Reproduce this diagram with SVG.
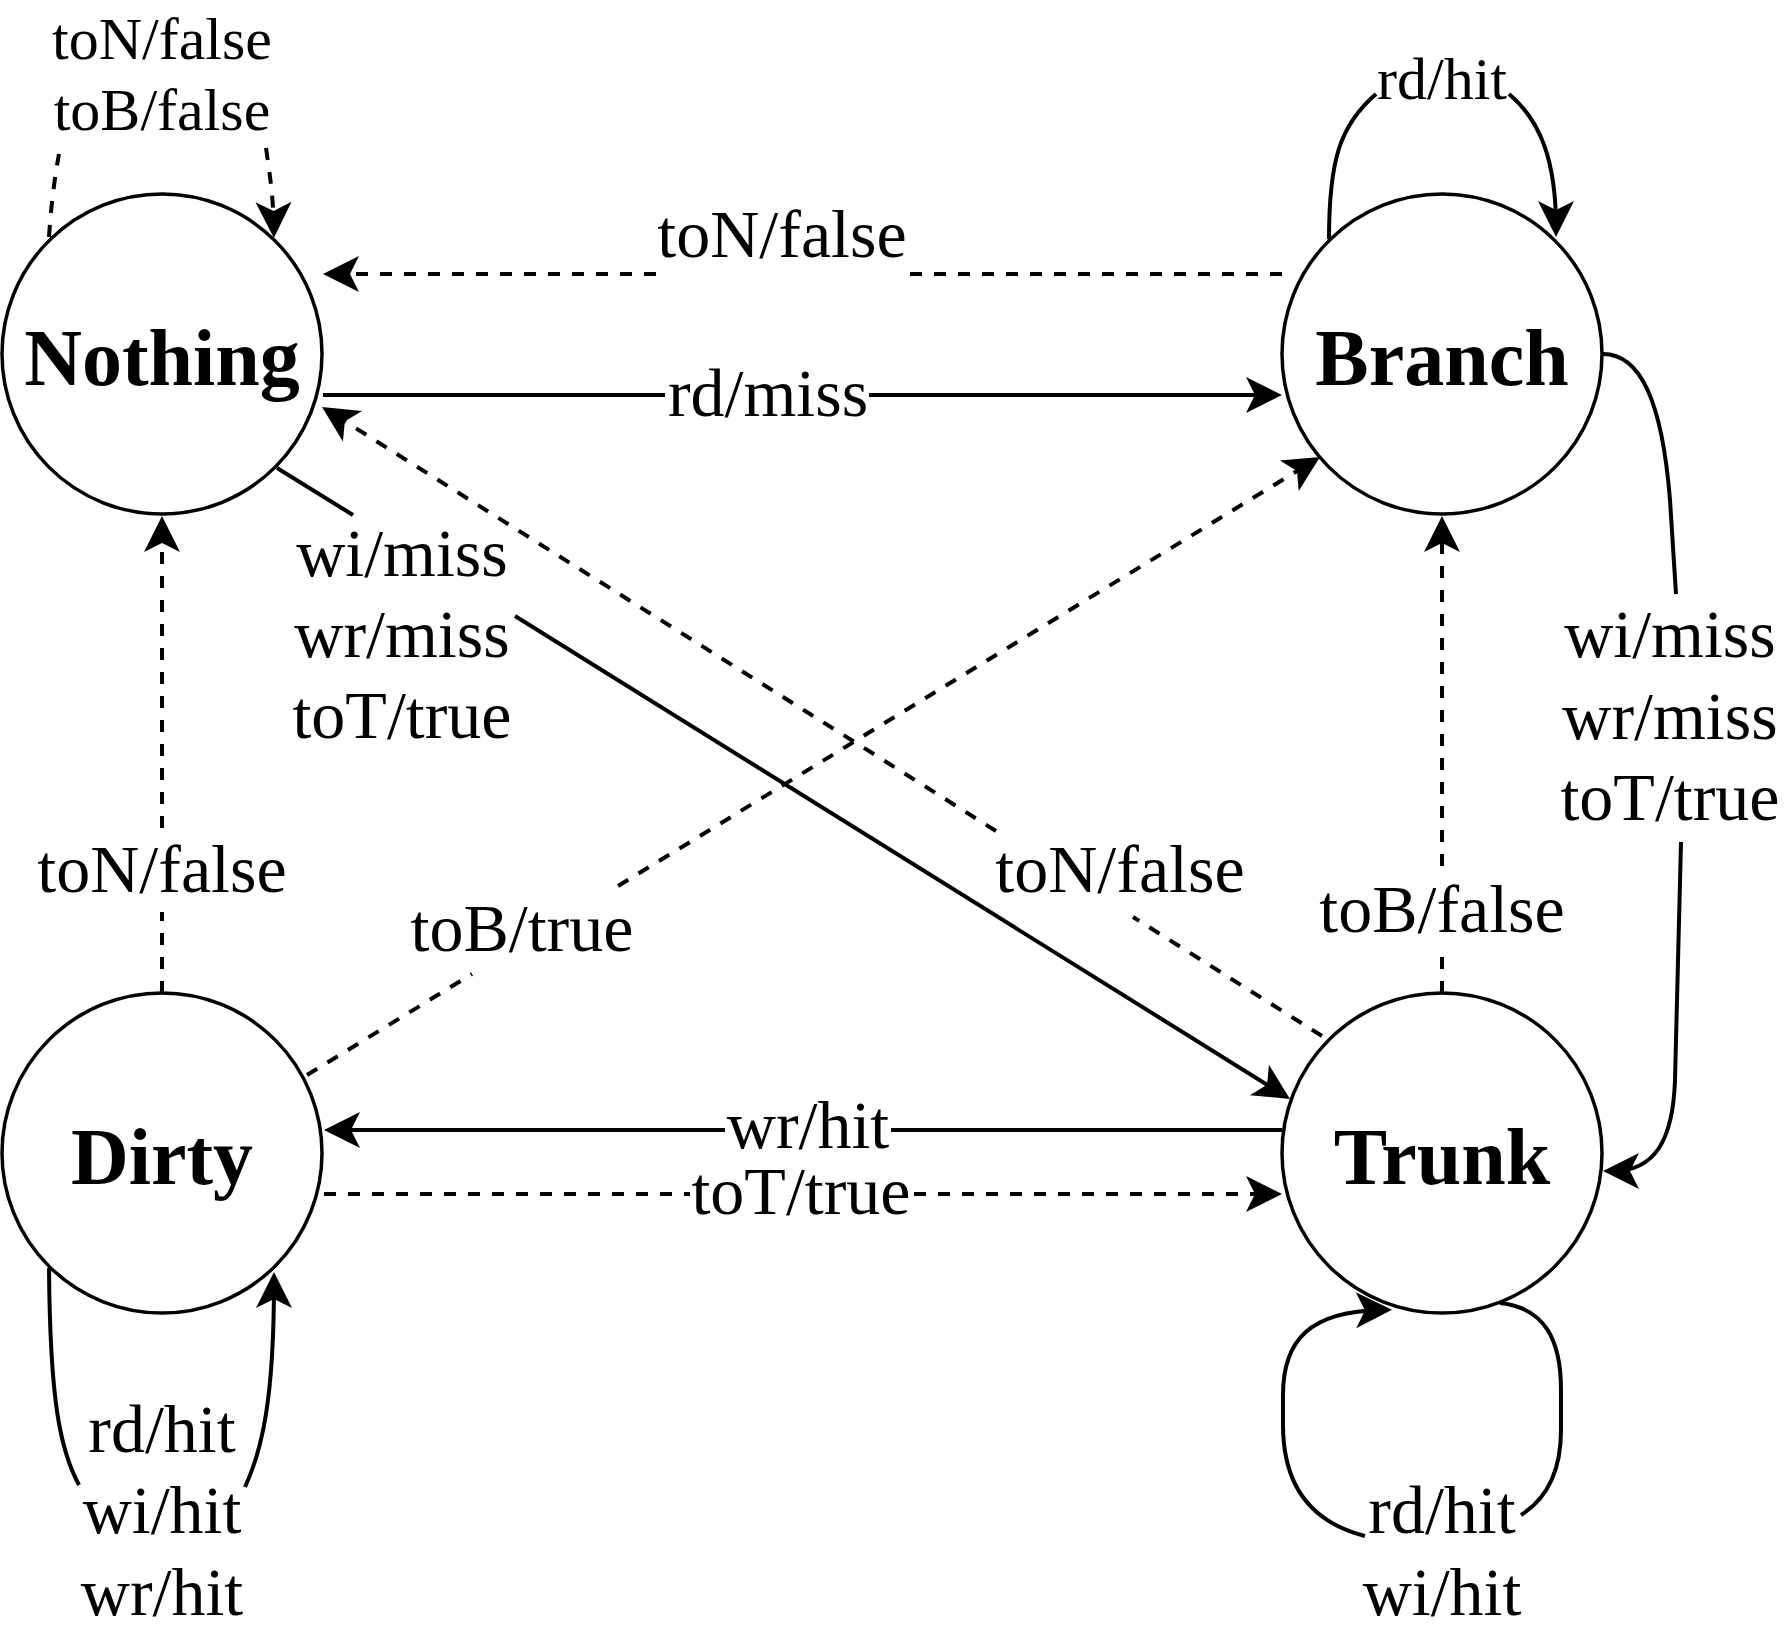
<svg xmlns="http://www.w3.org/2000/svg" width="1784" height="1636" viewBox="0 0 1784 1636">
<defs>
<marker id="arrow" viewBox="-38 -20 40 40" markerWidth="40" markerHeight="40" refX="-10" refY="0" orient="auto" markerUnits="userSpaceOnUse"><path d="M0,0 L-36,-18 L-27,0 L-36,18 Z" fill="#000"/></marker>
</defs>
<style>
.node{fill:#fff;stroke:#000;stroke-width:3.5}
.nlabel{font-family:"Liberation Serif","Times New Roman",serif;font-weight:bold;font-size:80px;text-anchor:middle;fill:#000}
.edge{fill:none;stroke:#000;stroke-width:4}
.dash{stroke-dasharray:12 12}
.arr{marker-end:url(#arrow)}
.elabel{font-family:"Liberation Serif","Times New Roman",serif;font-size:68px;text-anchor:middle;fill:#000}
.small{font-size:60px}
</style>
<rect width="1784" height="1636" fill="#fff"/>
<g id="node-nothing"><circle class="node" cx="162" cy="354" r="160"/><text class="nlabel" x="162" y="385">Nothing</text></g>
<g id="node-branch"><circle class="node" cx="1442" cy="354" r="160"/><text class="nlabel" x="1442" y="385">Branch</text></g>
<g id="node-dirty"><circle class="node" cx="162" cy="1153" r="160"/><text class="nlabel" x="162" y="1184">Dirty</text></g>
<g id="node-trunk"><circle class="node" cx="1442" cy="1153" r="160"/><text class="nlabel" x="1442" y="1184">Trunk</text></g>
<g id="connectors">
<g id="e-nothing-branch-rdmiss">
<path class="edge" d="M323 395 H665"/>
<path class="edge arr" d="M869 395 H1272"/>
<text class="elabel" x="768" y="416">rd/miss</text>
</g>
<g id="e-branch-nothing-toN">
<path class="edge dash" d="M1282 274 H910"/>
<path class="edge dash arr" d="M656 274 H333"/>
<text class="elabel" x="782" y="257">toN/false</text>
</g>
<g id="e-nothing-trunk">
<path class="edge" d="M277 468 L353 515"/>
<path class="edge arr" d="M515 616 L1281.5 1093.7"/>
<text class="elabel" x="402" y="576">wi/miss</text>
<text class="elabel" x="402" y="657">wr/miss</text>
<text class="elabel" x="402" y="738">toT/true</text>
</g>
<g id="e-trunk-nothing-toN">
<path class="edge dash" d="M1322 1036 L1133 917"/>
<path class="edge dash arr" d="M996 831 L330.5 412.3"/>
<text class="elabel" x="1120" y="892">toN/false</text>
</g>
<g id="e-dirty-branch-toB">
<path class="edge dash" d="M307 1075 L472 974"/>
<path class="edge dash arr" d="M618 886 L1311.5 462.2"/>
<text class="elabel" x="522" y="951">toB/true</text>
</g>
<g id="e-dirty-nothing-toN">
<path class="edge dash" d="M162 993 V912"/>
<path class="edge dash arr" d="M162 828 V526"/>
<text class="elabel" x="162" y="892">toN/false</text>
</g>
<g id="e-trunk-branch-toB">
<path class="edge dash" d="M1442 993 V953"/>
<path class="edge dash arr" d="M1442 866 V526"/>
<text class="elabel" x="1442" y="932">toB/false</text>
</g>
<g id="e-trunk-dirty-wrhit">
<path class="edge" d="M1282 1130 H891"/>
<path class="edge arr" d="M725 1130 H334"/>
<text class="elabel" x="808" y="1148">wr/hit</text>
</g>
<g id="e-dirty-trunk-toT">
<path class="edge dash" d="M324 1194 H690"/>
<path class="edge dash arr" d="M914 1194 H1272"/>
<text class="elabel" x="801" y="1214">toT/true</text>
</g>
<g id="e-branch-trunk">
<path class="edge" d="M1603 354 C1640 354 1662 400 1670 500 L1676 594"/>
<path class="edge arr" d="M1681 842 L1675 1080 C1673 1140 1655 1171 1613 1171"/>
<text class="elabel" x="1670" y="657">wi/miss</text>
<text class="elabel" x="1670" y="739">wr/miss</text>
<text class="elabel" x="1670" y="820">toT/true</text>
</g>
<g id="e-branch-loop">
<path class="edge" d="M1329 239 C1329 160 1340 125 1376 94"/>
<path class="edge arr" d="M1509 94 C1540 120 1556 160 1556 227"/>
<text class="elabel small" x="1442" y="99">rd/hit</text>
</g>
<g id="e-nothing-loop">
<path class="edge dash" d="M49 237 C51 205 55 175 59 154"/>
<path class="edge dash arr" d="M266 148 C270 175 273.5 200 273.8 228"/>
<text class="elabel small" x="162" y="59">toN/false</text>
<text class="elabel small" x="162" y="130">toB/false</text>
</g>
<g id="e-dirty-loop">
<path class="edge" d="M49 1268 C50 1400 60 1450 79 1485"/>
<path class="edge arr" d="M245 1487 C262 1450 274 1400 274 1282"/>
<text class="elabel" x="162" y="1452">rd/hit</text>
<text class="elabel" x="162" y="1533">wi/hit</text>
<text class="elabel" x="162" y="1615">wr/hit</text>
</g>
<g id="e-trunk-loop">
<path class="edge" d="M1500 1303 C1545 1308 1561 1340 1561 1390 L1561 1430 C1561 1475 1545 1500 1521 1515"/>
<path class="edge arr" d="M1365 1536 C1310 1522 1283 1485 1283 1425 L1283 1395 C1283 1340 1310 1311 1382 1310"/>
<text class="elabel" x="1442" y="1533">rd/hit</text>
<text class="elabel" x="1442" y="1615">wi/hit</text>
</g>
</g>
</svg>
